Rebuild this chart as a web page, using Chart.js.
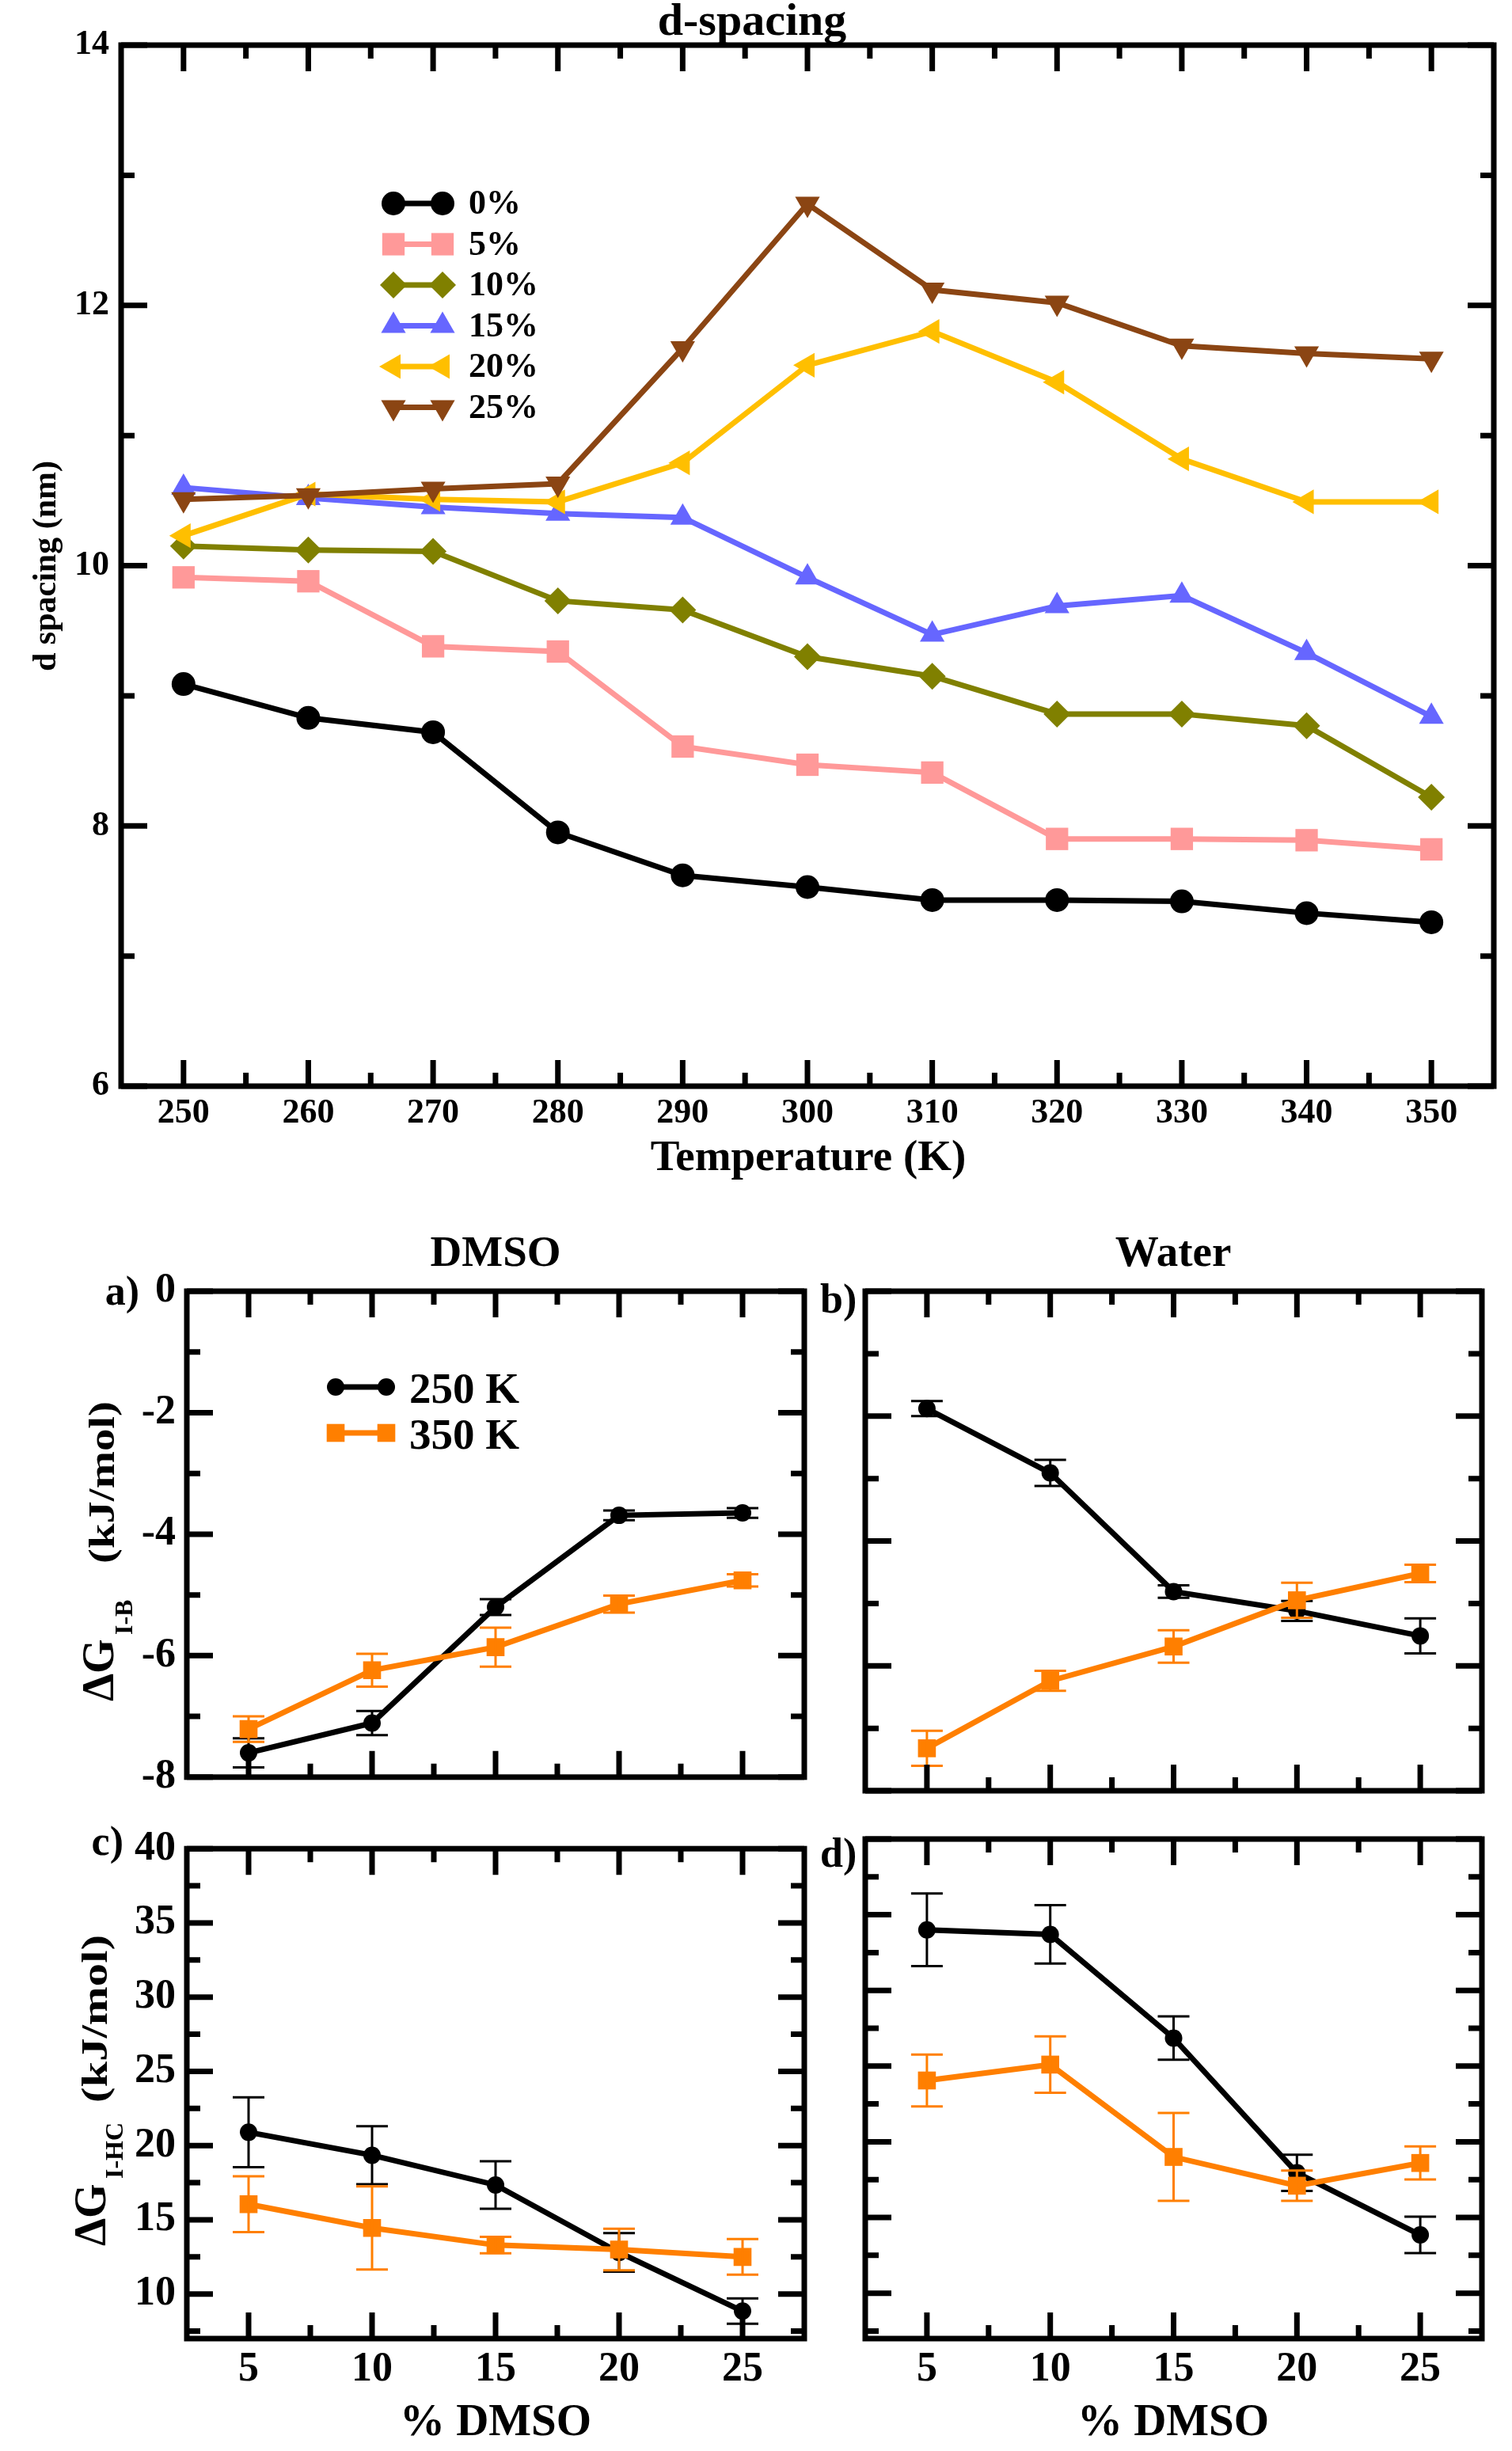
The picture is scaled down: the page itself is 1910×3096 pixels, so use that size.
<!DOCTYPE html>
<html><head><meta charset="utf-8">
<script src="https://cdn.jsdelivr.net/npm/chart.js@4.4.1/dist/chart.umd.min.js"></script>
<style>
html,body{margin:0;padding:0;background:#fff;}
body{width:1910px;height:3096px;position:relative;overflow:hidden;}
canvas{position:absolute;}
</style></head><body>
<canvas id="cTop"></canvas>
<canvas id="cA"></canvas>
<canvas id="cB"></canvas>
<canvas id="cC"></canvas>
<canvas id="cD"></canvas>
<script>
// ---------------- DATA ----------------
const temperatures = [250, 260, 270, 280, 290, 300, 310, 320, 330, 340, 350];
const dSpacing0  = [9.09, 8.83, 8.72, 7.95, 7.62, 7.53, 7.43, 7.43, 7.42, 7.33, 7.26];
const dSpacing5  = [9.91, 9.88, 9.38, 9.34, 8.61, 8.47, 8.41, 7.90, 7.90, 7.89, 7.82];
const dSpacing10 = [10.15, 10.12, 10.11, 9.73, 9.66, 9.30, 9.15, 8.86, 8.86, 8.77, 8.22];
const dSpacing15 = [10.60, 10.52, 10.45, 10.40, 10.37, 9.91, 9.47, 9.69, 9.77, 9.33, 8.84];
const dSpacing20 = [10.23, 10.55, 10.51, 10.49, 10.79, 11.54, 11.80, 11.41, 10.82, 10.49, 10.49];
const dSpacing25 = [10.51, 10.54, 10.59, 10.63, 11.67, 12.78, 12.12, 12.02, 11.69, 11.63, 11.59];
const dSeriesLabels = ['0%', '5%', '10%', '15%', '20%', '25%'];
const tempTicks = [250, 260, 270, 280, 290, 300, 310, 320, 330, 340, 350];
const tempMinorTicks = [255, 265, 275, 285, 295, 305, 315, 325, 335, 345];
const dTicks = [6, 8, 10, 12, 14];
const dMinorTicks = [7, 9, 11, 13];

const dmsoPercent = [5, 10, 15, 20, 25];
const dmsoIB250    = [-7.60, -7.11, -5.20, -3.69, -3.65];
const dmsoIB250Err = [0.24, 0.20, 0.13, 0.08, 0.08];
const dmsoIB350    = [-7.21, -6.24, -5.86, -5.15, -4.76];
const dmsoIB350Err = [0.21, 0.27, 0.32, 0.14, 0.10];
const waterIB250    = [-1.88, -2.91, -4.81, -5.12, -5.52];
const waterIB250Err = [0.12, 0.21, 0.10, 0.16, 0.28];
const waterIB350    = [-7.32, -6.24, -5.69, -4.95, -4.52];
const waterIB350Err = [0.28, 0.16, 0.26, 0.28, 0.14];
const dmsoIHC250    = [20.90, 19.35, 17.35, 12.80, 8.85];
const dmsoIHC250Err = [2.35, 1.95, 1.60, 1.30, 0.85];
const dmsoIHC350    = [16.05, 14.45, 13.30, 13.00, 12.50];
const dmsoIHC350Err = [1.88, 2.80, 0.55, 1.40, 1.20];
const waterIHC250    = [34.00, 33.70, 26.85, 17.95, 13.85];
const waterIHC250Err = [2.40, 1.93, 1.43, 1.19, 1.20];
const waterIHC350    = [24.05, 25.10, 19.00, 17.10, 18.60];
const waterIHC350Err = [1.71, 1.86, 2.90, 1.00, 1.09];
const tempLabels = ['250 K', '350 K'];
const pctTicks = [5, 10, 15, 20, 25];
const pctMinorTicks = [7.5, 12.5, 17.5, 22.5];
const ibTicks = [-8, -6, -4, -2, 0];
const ibMinorTicks = [-7, -5, -3, -1];
const ihcTicks = [10, 15, 20, 25, 30, 35, 40];
const ihcMinorTicks = [7.5, 12.5, 17.5, 22.5, 27.5, 32.5, 37.5];

// ---------------- STYLE ----------------
const FONT = "'Liberation Serif','Times New Roman',serif";
Chart.defaults.font.family = FONT;
Chart.defaults.font.weight = 'bold';
Chart.defaults.color = '#000';

const seriesColors = ['#000000', '#FF9999', '#808000', '#6666FF', '#FFBF00', '#8B4513'];
const seriesStyles = [
  {pointStyle: 'circle', rotation: 0, radius: 15},
  {pointStyle: 'rect', rotation: 0, radius: 20},
  {pointStyle: 'rectRot', rotation: 0, radius: 17},
  {pointStyle: 'triangle', rotation: 0, radius: 18},
  {pointStyle: 'triangle', rotation: 270, radius: 18},
  {pointStyle: 'triangle', rotation: 180, radius: 18}
];
const panelColors = ['#000000', '#FF7F00'];
const panelStyles = [
  {pointStyle: 'circle', rotation: 0, radius: 11},
  {pointStyle: 'rect', rotation: 0, radius: 16}
];

function drawMarker(ctx, st, x, y, color) {
  ctx.save();
  ctx.fillStyle = color; ctx.strokeStyle = color;
  const opts = {pointStyle: st.pointStyle, rotation: st.rotation, radius: st.radius, borderWidth: 0};
  if (Chart.helpers && Chart.helpers.drawPoint) {
    Chart.helpers.drawPoint(ctx, opts, x, y);
  } else {
    ctx.beginPath(); ctx.arc(x, y, st.radius, 0, Math.PI * 2); ctx.fill();
  }
  ctx.restore();
}

function drawTexts(ctx, items) {
  items.forEach(t => {
    ctx.save();
    ctx.font = 'bold ' + t.size + 'px ' + FONT;
    ctx.fillStyle = '#000';
    ctx.textAlign = t.align || 'left';
    ctx.textBaseline = t.baseline || 'alphabetic';
    ctx.translate(t.x, t.y);
    if (t.rot) ctx.rotate(t.rot);
    if (t.len) { const w = ctx.measureText(t.text).width; ctx.scale(t.len / w, 1); }
    ctx.fillText(t.text, 0, 0);
    ctx.restore();
  });
}

function makeChart(o) {
  const c = document.getElementById(o.id);
  c.width = o.rect.w; c.height = o.rect.h;
  c.style.left = o.rect.x + 'px'; c.style.top = o.rect.y + 'px';
  c.style.width = o.rect.w + 'px'; c.style.height = o.rect.h + 'px';
  const yW = o.showY ? 100 : 10;
  const xH = o.showX ? 80 : 10;
  const padding = {
    left: o.area.l - o.rect.x - yW,
    right: o.rect.x + o.rect.w - o.area.r,
    top: o.area.t - o.rect.y,
    bottom: o.rect.y + o.rect.h - o.area.b - xH
  };
  const plugin = {
    id: 'decor_' + o.id,
    afterDatasetDraw(chart, args) {
      const ds = chart.data.datasets[args.index];
      if (!ds.errorBars) return;
      const ctx = chart.ctx, ys = chart.scales.y;
      ctx.save();
      ctx.strokeStyle = ds.borderColor; ctx.lineWidth = 3; ctx.lineCap = 'butt';
      args.meta.data.forEach((pt, j) => {
        const v = ds.data[j].y, e = ds.errorBars[j];
        const y1 = ys.getPixelForValue(v + e), y2 = ys.getPixelForValue(v - e);
        ctx.beginPath();
        ctx.moveTo(pt.x, y1); ctx.lineTo(pt.x, y2);
        ctx.moveTo(pt.x - 20, y1); ctx.lineTo(pt.x + 20, y1);
        ctx.moveTo(pt.x - 20, y2); ctx.lineTo(pt.x + 20, y2);
        ctx.stroke();
      });
      ctx.restore();
    },
    afterDraw(chart) {
      const ctx = chart.ctx, a = chart.chartArea, xs = chart.scales.x, ys = chart.scales.y;
      ctx.save();
      ctx.strokeStyle = '#000'; ctx.lineCap = 'butt';
      ctx.lineWidth = 7;
      const xt = (arr, len) => arr.forEach(v => {
        const p = xs.getPixelForValue(v);
        ctx.beginPath();
        ctx.moveTo(p, a.bottom); ctx.lineTo(p, a.bottom - len);
        ctx.moveTo(p, a.top); ctx.lineTo(p, a.top + len);
        ctx.stroke();
      });
      const yt = (arr, len) => arr.forEach(v => {
        const p = ys.getPixelForValue(v);
        ctx.beginPath();
        ctx.moveTo(a.left, p); ctx.lineTo(a.left + len, p);
        ctx.moveTo(a.right, p); ctx.lineTo(a.right - len, p);
        ctx.stroke();
      });
      xt(o.xTicks, 33); xt(o.xMinor, 17);
      yt(o.yTicks, 33); yt(o.yMinor, 17);
      ctx.lineWidth = 7; ctx.lineJoin = 'miter';
      ctx.strokeRect(a.left, a.top, a.right - a.left, a.bottom - a.top);
      ctx.restore();
      ctx.save();
      ctx.translate(-o.rect.x, -o.rect.y);
      if (o.legend) o.legend(ctx);
      drawTexts(ctx, o.texts || []);
      ctx.restore();
    }
  };
  return new Chart(c, {
    type: 'scatter',
    data: {datasets: o.datasets},
    options: {
      responsive: false, animation: false, devicePixelRatio: 1, events: [],
      layout: {padding},
      plugins: {legend: {display: false}, tooltip: {enabled: false}, title: {display: false}},
      scales: {
        x: {
          type: 'linear', min: o.xMin, max: o.xMax,
          afterBuildTicks: s => { s.ticks = o.xTicks.map(v => ({value: v})); },
          afterFit: s => { s.height = xH; },
          grid: {display: false, drawTicks: false}, border: {display: false},
          ticks: {display: o.showX, font: {size: o.tickSize, weight: 'bold'}, color: '#000',
                  padding: o.xPad, maxRotation: 0, minRotation: 0, autoSkip: false,
                  callback: v => String(v)}
        },
        y: {
          type: 'linear', min: o.yMin, max: o.yMax,
          afterBuildTicks: s => { s.ticks = o.yTicks.map(v => ({value: v})); },
          afterFit: s => { s.width = yW; },
          grid: {display: false, drawTicks: false}, border: {display: false},
          ticks: {display: o.showY, font: {size: o.tickSize, weight: 'bold'}, color: '#000',
                  padding: o.yPad, autoSkip: false, callback: v => String(v)}
        }
      }
    },
    plugins: [plugin]
  });
}

function toXY(xs, ys) { return xs.map((x, i) => ({x: x, y: ys[i]})); }

function mkDataset(label, xs, ys, color, st, order, errs, lw) {
  return {
    label: label, data: toXY(xs, ys), showLine: true,
    borderColor: color, backgroundColor: color, borderWidth: lw,
    pointStyle: st.pointStyle, pointRotation: st.rotation, pointRadius: st.radius,
    pointHoverRadius: st.radius, pointBackgroundColor: color, pointBorderColor: color,
    pointBorderWidth: 0, tension: 0, order: order, errorBars: errs || null
  };
}

// ---------------- TOP CHART ----------------
const dSeries = [dSpacing0, dSpacing5, dSpacing10, dSpacing15, dSpacing20, dSpacing25];
const topDatasets = dSeries.map((ys, i) =>
  mkDataset(dSeriesLabels[i], temperatures, ys, seriesColors[i], seriesStyles[i], dSeries.length - i, null, 7));

makeChart({
  id: 'cTop', rect: {x: 0, y: 0, w: 1910, h: 1500}, area: {l: 153, r: 1887, t: 57, b: 1372},
  xMin: 245, xMax: 355, yMin: 6, yMax: 14,
  xTicks: tempTicks, xMinor: tempMinorTicks, yTicks: dTicks, yMinor: dMinorTicks,
  showX: true, showY: true, tickSize: 44, xPad: 8, yPad: 15,
  datasets: topDatasets,
  texts: [
    {text: 'd-spacing', x: 950, y: 44, size: 58, align: 'center'},
    {text: 'Temperature (K)', x: 1021, y: 1478, size: 55, align: 'center'},
    {text: 'd spacing (nm)', x: 70, y: 715, size: 42, align: 'center', rot: -Math.PI / 2}
  ],
  legend: ctx => {
    dSeriesLabels.forEach((lab, i) => {
      const y = 257 + i * 51.5;
      ctx.save();
      ctx.strokeStyle = seriesColors[i]; ctx.lineWidth = 7;
      ctx.beginPath(); ctx.moveTo(497, y); ctx.lineTo(559, y); ctx.stroke();
      ctx.restore();
      drawMarker(ctx, seriesStyles[i], 497, y, seriesColors[i]);
      drawMarker(ctx, seriesStyles[i], 559, y, seriesColors[i]);
      drawTexts(ctx, [{text: lab, x: 592, y: y + 2, size: 44, baseline: 'middle'}]);
    });
  }
});

// ---------------- PANELS ----------------
function panelDatasets(y250, e250, y350, e350) {
  return [
    mkDataset(tempLabels[0], dmsoPercent, y250, panelColors[0], panelStyles[0], 2, e250, 7),
    mkDataset(tempLabels[1], dmsoPercent, y350, panelColors[1], panelStyles[1], 1, e350, 7)
  ];
}

function panelLegend(ctx) {
  [1752, 1810].forEach((y, i) => {
    ctx.save();
    ctx.strokeStyle = panelColors[i]; ctx.lineWidth = 7;
    ctx.beginPath(); ctx.moveTo(424, y); ctx.lineTo(488, y); ctx.stroke();
    ctx.restore();
    drawMarker(ctx, panelStyles[i], 424, y, panelColors[i]);
    drawMarker(ctx, panelStyles[i], 488, y, panelColors[i]);
    drawTexts(ctx, [{text: tempLabels[i], x: 517, y: y + 20, size: 55}]);
  });
}

makeChart({
  id: 'cA', rect: {x: 0, y: 1530, w: 1060, h: 760}, area: {l: 236, r: 1016, t: 1631, b: 2262},
  xMin: 2.5, xMax: 27.5, yMin: -8, yMax: 0,
  xTicks: pctTicks, xMinor: pctMinorTicks, yTicks: ibTicks, yMinor: ibMinorTicks,
  showX: false, showY: true, tickSize: 52, xPad: 8, yPad: 14,
  datasets: panelDatasets(dmsoIB250, dmsoIB250Err, dmsoIB350, dmsoIB350Err),
  legend: panelLegend,
  texts: [
    {text: 'DMSO', x: 626, y: 1599, size: 55, align: 'center'},
    {text: 'a)', x: 176, y: 1648, size: 52, align: 'right'},
    {text: '\u0394G', x: 143, y: 2149, size: 56, rot: -Math.PI / 2},
    {text: 'I-B', x: 167, y: 2065, size: 32, rot: -Math.PI / 2},
    {text: '(kJ/mol)', x: 144, y: 1975, size: 46, rot: -Math.PI / 2, len: 205}
  ]
});

makeChart({
  id: 'cB', rect: {x: 1020, y: 1530, w: 890, h: 760}, area: {l: 1093, r: 1872, t: 1631, b: 2262},
  xMin: 2.5, xMax: 27.5, yMin: -8, yMax: 0,
  xTicks: pctTicks, xMinor: pctMinorTicks, yTicks: ibTicks, yMinor: ibMinorTicks,
  showX: false, showY: false, tickSize: 52, xPad: 8, yPad: 14,
  datasets: panelDatasets(waterIB250, waterIB250Err, waterIB350, waterIB350Err),
  texts: [
    {text: 'Water', x: 1482, y: 1599, size: 55, align: 'center'},
    {text: 'b)', x: 1036, y: 1658, size: 52}
  ]
});

makeChart({
  id: 'cC', rect: {x: 0, y: 2290, w: 1060, h: 806}, area: {l: 236, r: 1016, t: 2323, b: 2954},
  xMin: 2.5, xMax: 27.5, yMin: 7, yMax: 40,
  xTicks: pctTicks, xMinor: pctMinorTicks, yTicks: ihcTicks, yMinor: ihcMinorTicks,
  showX: true, showY: true, tickSize: 52, xPad: 8, yPad: 14,
  datasets: panelDatasets(dmsoIHC250, dmsoIHC250Err, dmsoIHC350, dmsoIHC350Err),
  texts: [
    {text: 'c)', x: 156, y: 2343, size: 52, align: 'right'},
    {text: '% DMSO', x: 626, y: 3076, size: 57, align: 'center'},
    {text: '\u0394G', x: 133, y: 2837, size: 56, rot: -Math.PI / 2},
    {text: 'I-HC', x: 155, y: 2752, size: 32, rot: -Math.PI / 2},
    {text: '(kJ/mol)', x: 135, y: 2656, size: 46, rot: -Math.PI / 2, len: 212}
  ]
});

makeChart({
  id: 'cD', rect: {x: 1020, y: 2290, w: 890, h: 806}, area: {l: 1093, r: 1872, t: 2323, b: 2954},
  xMin: 2.5, xMax: 27.5, yMin: 7, yMax: 40,
  xTicks: pctTicks, xMinor: pctMinorTicks, yTicks: ihcTicks, yMinor: ihcMinorTicks,
  showX: true, showY: false, tickSize: 52, xPad: 8, yPad: 14,
  datasets: panelDatasets(waterIHC250, waterIHC250Err, waterIHC350, waterIHC350Err),
  texts: [
    {text: 'd)', x: 1036, y: 2358, size: 52},
    {text: '% DMSO', x: 1482, y: 3076, size: 57, align: 'center'}
  ]
});
</script>
</body></html>
